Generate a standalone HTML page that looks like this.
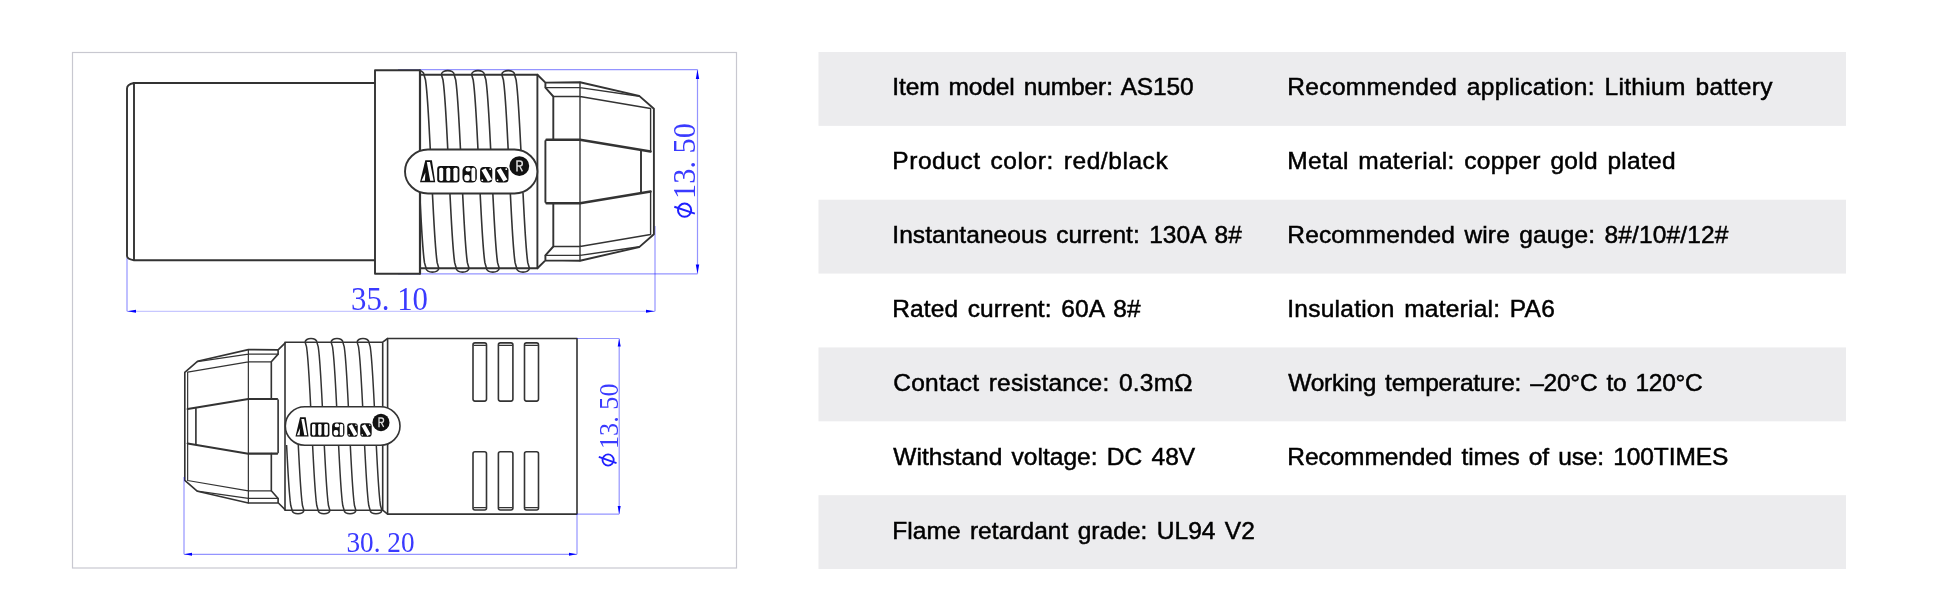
<!DOCTYPE html>
<html><head><meta charset="utf-8"><style>
html,body{margin:0;padding:0;background:#fff;width:1946px;height:612px;overflow:hidden}
svg{display:block;will-change:transform}
</style></head><body>
<svg width="1946" height="612" viewBox="0 0 1946 612">
<g><rect x="818.5" y="52.00" width="1027.5" height="73.86" fill="#ECECEE"/><rect x="818.5" y="199.72" width="1027.5" height="73.86" fill="#ECECEE"/><rect x="818.5" y="347.44" width="1027.5" height="73.86" fill="#ECECEE"/><rect x="818.5" y="495.16" width="1027.5" height="73.86" fill="#ECECEE"/></g>
<g font-family="Liberation Sans" font-size="24.5" word-spacing="2.5" fill="#000" stroke="#000" stroke-width="0.5">
<text x="892.3" y="94.95" textLength="301.39" lengthAdjust="spacing">Item model number: AS150</text>
<text x="892.3" y="168.90" textLength="275.38" lengthAdjust="spacing">Product color: red/black</text>
<text x="892.3" y="242.85" textLength="349.63" lengthAdjust="spacing">Instantaneous current: 130A 8#</text>
<text x="892.3" y="316.80" textLength="248.26" lengthAdjust="spacing">Rated current: 60A 8#</text>
<text x="893.3" y="390.75" textLength="299.31" lengthAdjust="spacing">Contact resistance: 0.3mΩ</text>
<text x="893.3" y="464.70" textLength="301.86" lengthAdjust="spacing">Withstand voltage: DC 48V</text>
<text x="892.3" y="538.65" textLength="362.57" lengthAdjust="spacing">Flame retardant grade: UL94 V2</text>
<text x="1287.3" y="94.95" textLength="485.09" lengthAdjust="spacing">Recommended application: Lithium battery</text>
<text x="1287.3" y="168.90" textLength="388.28" lengthAdjust="spacing">Metal material: copper gold plated</text>
<text x="1287.3" y="242.85" textLength="441.15" lengthAdjust="spacing">Recommended wire gauge: 8#/10#/12#</text>
<text x="1287.3" y="316.80" textLength="267.54" lengthAdjust="spacing">Insulation material: PA6</text>
<text x="1288.3" y="390.75" textLength="414.52" lengthAdjust="spacing">Working temperature: –20°C to 120°C</text>
<text x="1287.3" y="464.70" textLength="440.99" lengthAdjust="spacing">Recommended times of use: 100TIMES</text>
</g>
<rect x="72.5" y="52.5" width="664" height="515.5" fill="none" stroke="#C8C8D0" stroke-width="1.2"/>
<g stroke="#0000FF" stroke-opacity="0.42" stroke-width="1.2" fill="none">
<path d="M398 69.6 H697.5 M398 273.8 H697.5 M697.5 69.6 V273.8"/>
<path d="M127 258 V311.3 M655 226 V311.3"/><path d="M127 311.3 H655" stroke-opacity="0.22"/>
</g>
<g fill="#0000FF">
<path d="M697.5 69.8 L699.2 79 L695.8 79 Z"/><path d="M697.5 273.6 L699.2 264.4 L695.8 264.4 Z"/>
<path d="M127.2 311.3 L136 309.8 L136 312.8 Z"/><path d="M654.8 311.3 L646 309.8 L646 312.8 Z"/>
</g>
<g fill="none" stroke="#333" stroke-width="1.9" stroke-linejoin="round" stroke-linecap="round">
<path d="M134 83 H375 M134 260.3 H375 M134 83 V260.3 M133.8 83 C130 83.8 127 85 127 88.5 V256 C127 258 130 259.5 134 260.3"/>
</g>
<defs><clipPath id="cu"><rect x="420" y="60" width="117.4" height="220"/></clipPath><clipPath id="cl"><rect x="285" y="330" width="97.7" height="195"/></clipPath></defs>
<g fill="none" stroke="#333" stroke-width="1.6" stroke-linejoin="round" clip-path="url(#cu)">
<path d="M 417.60 150.00 L 417.33 144.62 L 417.05 139.24 L 416.77 133.86 L 416.49 128.49 L 416.19 123.11 L 415.88 117.73 L 415.56 112.35 L 415.22 106.97 L 414.85 101.59 L 414.45 96.21 L 414.01 90.84 L 413.49 85.46 L 412.83 80.08 L 411.25 74.70 C 410.95 69.20 424.25 69.20 423.95 74.70 L 425.53 80.08 L 426.19 85.46 L 426.71 90.84 L 427.15 96.21 L 427.55 101.59 L 427.92 106.97 L 428.26 112.35 L 428.58 117.73 L 428.89 123.11 L 429.19 128.49 L 429.47 133.86 L 429.75 139.24 L 430.03 144.62 L 430.30 150.00"/>
<path d="M 419.71 193.00 L 419.98 198.36 L 420.26 203.71 L 420.54 209.07 L 420.83 214.43 L 421.12 219.79 L 421.43 225.14 L 421.75 230.50 L 422.09 235.86 L 422.46 241.21 L 422.85 246.57 L 423.29 251.93 L 423.81 257.29 L 424.47 262.64 L 426.05 268.00 C 425.75 273.50 439.05 273.50 438.75 268.00 L 437.17 262.64 L 436.51 257.29 L 435.99 251.93 L 435.55 246.57 L 435.16 241.21 L 434.79 235.86 L 434.45 230.50 L 434.13 225.14 L 433.82 219.79 L 433.53 214.43 L 433.24 209.07 L 432.96 203.71 L 432.68 198.36 L 432.41 193.00"/>
<path d="M 447.80 150.00 L 447.53 144.62 L 447.25 139.24 L 446.97 133.86 L 446.69 128.49 L 446.39 123.11 L 446.08 117.73 L 445.76 112.35 L 445.42 106.97 L 445.05 101.59 L 444.65 96.21 L 444.21 90.84 L 443.69 85.46 L 443.03 80.08 L 441.45 74.70 C 441.15 69.20 454.45 69.20 454.15 74.70 L 455.73 80.08 L 456.39 85.46 L 456.91 90.84 L 457.35 96.21 L 457.75 101.59 L 458.12 106.97 L 458.46 112.35 L 458.78 117.73 L 459.09 123.11 L 459.39 128.49 L 459.67 133.86 L 459.95 139.24 L 460.23 144.62 L 460.50 150.00"/>
<path d="M 449.91 193.00 L 450.18 198.36 L 450.46 203.71 L 450.74 209.07 L 451.03 214.43 L 451.32 219.79 L 451.63 225.14 L 451.95 230.50 L 452.29 235.86 L 452.66 241.21 L 453.05 246.57 L 453.49 251.93 L 454.01 257.29 L 454.67 262.64 L 456.25 268.00 C 455.95 273.50 469.25 273.50 468.95 268.00 L 467.37 262.64 L 466.71 257.29 L 466.19 251.93 L 465.75 246.57 L 465.36 241.21 L 464.99 235.86 L 464.65 230.50 L 464.33 225.14 L 464.02 219.79 L 463.73 214.43 L 463.44 209.07 L 463.16 203.71 L 462.88 198.36 L 462.61 193.00"/>
<path d="M 478.00 150.00 L 477.73 144.62 L 477.45 139.24 L 477.17 133.86 L 476.89 128.49 L 476.59 123.11 L 476.28 117.73 L 475.96 112.35 L 475.62 106.97 L 475.25 101.59 L 474.85 96.21 L 474.41 90.84 L 473.89 85.46 L 473.23 80.08 L 471.65 74.70 C 471.35 69.20 484.65 69.20 484.35 74.70 L 485.93 80.08 L 486.59 85.46 L 487.11 90.84 L 487.55 96.21 L 487.95 101.59 L 488.32 106.97 L 488.66 112.35 L 488.98 117.73 L 489.29 123.11 L 489.59 128.49 L 489.87 133.86 L 490.15 139.24 L 490.43 144.62 L 490.70 150.00"/>
<path d="M 480.11 193.00 L 480.38 198.36 L 480.66 203.71 L 480.94 209.07 L 481.23 214.43 L 481.52 219.79 L 481.83 225.14 L 482.15 230.50 L 482.49 235.86 L 482.86 241.21 L 483.25 246.57 L 483.69 251.93 L 484.21 257.29 L 484.87 262.64 L 486.45 268.00 C 486.15 273.50 499.45 273.50 499.15 268.00 L 497.57 262.64 L 496.91 257.29 L 496.39 251.93 L 495.95 246.57 L 495.56 241.21 L 495.19 235.86 L 494.85 230.50 L 494.53 225.14 L 494.22 219.79 L 493.93 214.43 L 493.64 209.07 L 493.36 203.71 L 493.08 198.36 L 492.81 193.00"/>
<path d="M 508.20 150.00 L 507.93 144.62 L 507.65 139.24 L 507.37 133.86 L 507.09 128.49 L 506.79 123.11 L 506.48 117.73 L 506.16 112.35 L 505.82 106.97 L 505.45 101.59 L 505.05 96.21 L 504.61 90.84 L 504.09 85.46 L 503.43 80.08 L 501.85 74.70 C 501.55 69.20 514.85 69.20 514.55 74.70 L 516.13 80.08 L 516.79 85.46 L 517.31 90.84 L 517.75 96.21 L 518.15 101.59 L 518.52 106.97 L 518.86 112.35 L 519.18 117.73 L 519.49 123.11 L 519.79 128.49 L 520.07 133.86 L 520.35 139.24 L 520.63 144.62 L 520.90 150.00"/>
<path d="M 510.31 193.00 L 510.58 198.36 L 510.86 203.71 L 511.14 209.07 L 511.43 214.43 L 511.72 219.79 L 512.03 225.14 L 512.35 230.50 L 512.69 235.86 L 513.06 241.21 L 513.45 246.57 L 513.89 251.93 L 514.41 257.29 L 515.07 262.64 L 516.65 268.00 C 516.35 273.50 529.65 273.50 529.35 268.00 L 527.77 262.64 L 527.11 257.29 L 526.59 251.93 L 526.15 246.57 L 525.76 241.21 L 525.39 235.86 L 525.05 230.50 L 524.73 225.14 L 524.42 219.79 L 524.13 214.43 L 523.84 209.07 L 523.56 203.71 L 523.28 198.36 L 523.01 193.00"/>
</g>
<g fill="none" stroke="#333" stroke-width="1.9" stroke-linejoin="round" stroke-linecap="round">
<path d="M420 74.7 H537.4 V268.3 H420"/>
<rect x="375" y="70.2" width="45" height="203.5" fill="#fff"/>
<path d="M420 70.6 V273.4" stroke-width="2.2"/>
<g id="cone"><path d="M537.4 74.7 L545.4 82.6 V87.6 L553.3 96.5 V139.7 M545.4 82.6 L580 82.3 L639.2 95.9 L653.9 108.7 V234.3 L639.2 247.1 L580 260.7 L545.4 260.4 V255.4 L553.3 246.5 V203.3 M537.4 268.3 L545.4 260.4"/><path d="M545.4 87.6 H580 L639.2 96.2 M553.3 96.5 H580 L650.6 108.5 V151.5 M545.4 255.4 H580 L639.2 246.8 M553.3 246.5 H580 L650.6 234.5 V191.5 M580 82.3 V260.7" stroke-width="1.4"/><path d="M546.5 139.7 H580 L650.6 151.5 M546.5 203.3 H580 L650.6 191.5" stroke-width="2.4"/><path d="M545.4 141 V202 M641 151 V192"/></g>
<rect x="405" y="149.5" width="132.4" height="44" rx="23" ry="22" fill="#fff"/>
</g>
<g fill="#111"><path d="M420 182.2 L425.3 160.2 H431.9 L435.2 182.2 Z"/><rect x="437.2" y="166.1" width="22.2" height="16.4" rx="3"/><rect x="462.5" y="166.1" width="14.3" height="16.4" rx="4.5"/><rect x="480.1" y="167" width="12.2" height="15.5" rx="3.5"/><rect x="495.2" y="167" width="13.3" height="15.5" rx="3.5"/><circle cx="519.3" cy="166.1" r="9.9"/></g><g fill="#fff"><path d="M426.8 162 L430 162 L433.6 180.8 L430.2 180.8 Z"/><path d="M421.6 180.8 L424.9 180.8 L425.4 172.5 Z"/><rect x="439.2" y="167.7" width="4" height="13.2" rx="1.6"/><rect x="446.3" y="167.7" width="4" height="13.2" rx="1.6"/><rect x="453.4" y="167.7" width="4.2" height="13.2" rx="1.6"/><rect x="465.6" y="167.4" width="5" height="4.2" rx="1.8"/><rect x="464.3" y="174.8" width="5.4" height="6.2" rx="2.2"/><rect x="471.4" y="167.8" width="3.9" height="13.2" rx="1.6"/><path d="M481.5 170.2 L485.6 168.2 L492 179.4 L487.9 181.4 Z"/><path d="M496.7 170.2 L500.8 168.2 L507.4 179.4 L503.4 181.4 Z"/><circle cx="490.2" cy="169.2" r="0.9"/><circle cx="482.3" cy="180.2" r="0.9"/><circle cx="506.3" cy="169.2" r="0.9"/><circle cx="497.5" cy="180.2" r="0.9"/></g><path d="M517 171.5 V161 h2.8 a2.5 2.5 0 0 1 0 5 h-2.8 M519.6 166 l2.8 5.3" stroke="#fff" stroke-width="1.5" fill="none" stroke-opacity="0.85"/><g></g>
<text x="351" y="310" font-family="Liberation Serif" font-size="33.5" fill="#3a3aFF" textLength="77" lengthAdjust="spacingAndGlyphs">35. 10</text>
<text transform="translate(695 199) rotate(-90)" x="0" y="0" font-family="Liberation Serif" font-size="31.5" fill="#3a3aFF" textLength="76" lengthAdjust="spacingAndGlyphs">13. 50</text>
<g stroke="#2020FF" stroke-width="2" fill="none"><circle cx="684.6" cy="210.2" r="6.6"/><path d="M674.3 206.8 L694.9 213.6"/></g>
<g fill="none" stroke="#333" stroke-width="1.5" stroke-linejoin="round" clip-path="url(#cl)">
<path d="M 286.58 445.00 L 286.82 449.66 L 287.06 454.31 L 287.31 458.97 L 287.56 463.63 L 287.82 468.29 L 288.09 472.94 L 288.37 477.60 L 288.67 482.26 L 288.99 486.91 L 289.34 491.57 L 289.73 496.23 L 290.18 500.89 L 290.77 505.54 L 292.15 510.20 C 291.85 515.00 304.15 515.00 303.85 510.20 L 302.47 505.54 L 301.88 500.89 L 301.43 496.23 L 301.04 491.57 L 300.69 486.91 L 300.37 482.26 L 300.07 477.60 L 299.79 472.94 L 299.52 468.29 L 299.26 463.63 L 299.01 458.97 L 298.76 454.31 L 298.52 449.66 L 298.28 445.00"/>
<path d="M 310.72 407.50 L 310.48 402.84 L 310.24 398.17 L 310.00 393.51 L 309.74 388.84 L 309.48 384.18 L 309.21 379.51 L 308.93 374.85 L 308.63 370.19 L 308.31 365.52 L 307.96 360.86 L 307.57 356.19 L 307.12 351.53 L 306.54 346.86 L 305.15 342.20 C 304.85 337.40 317.15 337.40 316.85 342.20 L 318.24 346.86 L 318.82 351.53 L 319.27 356.19 L 319.66 360.86 L 320.01 365.52 L 320.33 370.19 L 320.63 374.85 L 320.91 379.51 L 321.18 384.18 L 321.44 388.84 L 321.70 393.51 L 321.94 398.17 L 322.18 402.84 L 322.42 407.50"/>
<path d="M 312.58 445.00 L 312.82 449.66 L 313.06 454.31 L 313.31 458.97 L 313.56 463.63 L 313.82 468.29 L 314.09 472.94 L 314.37 477.60 L 314.67 482.26 L 314.99 486.91 L 315.34 491.57 L 315.73 496.23 L 316.18 500.89 L 316.77 505.54 L 318.15 510.20 C 317.85 515.00 330.15 515.00 329.85 510.20 L 328.47 505.54 L 327.88 500.89 L 327.43 496.23 L 327.04 491.57 L 326.69 486.91 L 326.37 482.26 L 326.07 477.60 L 325.79 472.94 L 325.52 468.29 L 325.26 463.63 L 325.01 458.97 L 324.76 454.31 L 324.52 449.66 L 324.28 445.00"/>
<path d="M 336.72 407.50 L 336.48 402.84 L 336.24 398.17 L 336.00 393.51 L 335.74 388.84 L 335.48 384.18 L 335.21 379.51 L 334.93 374.85 L 334.63 370.19 L 334.31 365.52 L 333.96 360.86 L 333.57 356.19 L 333.12 351.53 L 332.54 346.86 L 331.15 342.20 C 330.85 337.40 343.15 337.40 342.85 342.20 L 344.24 346.86 L 344.82 351.53 L 345.27 356.19 L 345.66 360.86 L 346.01 365.52 L 346.33 370.19 L 346.63 374.85 L 346.91 379.51 L 347.18 384.18 L 347.44 388.84 L 347.70 393.51 L 347.94 398.17 L 348.18 402.84 L 348.42 407.50"/>
<path d="M 338.58 445.00 L 338.82 449.66 L 339.06 454.31 L 339.31 458.97 L 339.56 463.63 L 339.82 468.29 L 340.09 472.94 L 340.37 477.60 L 340.67 482.26 L 340.99 486.91 L 341.34 491.57 L 341.73 496.23 L 342.18 500.89 L 342.77 505.54 L 344.15 510.20 C 343.85 515.00 356.15 515.00 355.85 510.20 L 354.47 505.54 L 353.88 500.89 L 353.43 496.23 L 353.04 491.57 L 352.69 486.91 L 352.37 482.26 L 352.07 477.60 L 351.79 472.94 L 351.52 468.29 L 351.26 463.63 L 351.01 458.97 L 350.76 454.31 L 350.52 449.66 L 350.28 445.00"/>
<path d="M 362.72 407.50 L 362.48 402.84 L 362.24 398.17 L 362.00 393.51 L 361.74 388.84 L 361.48 384.18 L 361.21 379.51 L 360.93 374.85 L 360.63 370.19 L 360.31 365.52 L 359.96 360.86 L 359.57 356.19 L 359.12 351.53 L 358.54 346.86 L 357.15 342.20 C 356.85 337.40 369.15 337.40 368.85 342.20 L 370.24 346.86 L 370.82 351.53 L 371.27 356.19 L 371.66 360.86 L 372.01 365.52 L 372.33 370.19 L 372.63 374.85 L 372.91 379.51 L 373.18 384.18 L 373.44 388.84 L 373.70 393.51 L 373.94 398.17 L 374.18 402.84 L 374.42 407.50"/>
<path d="M 364.58 445.00 L 364.82 449.66 L 365.06 454.31 L 365.31 458.97 L 365.56 463.63 L 365.82 468.29 L 366.09 472.94 L 366.37 477.60 L 366.67 482.26 L 366.99 486.91 L 367.34 491.57 L 367.73 496.23 L 368.18 500.89 L 368.77 505.54 L 370.15 510.20 C 369.85 515.00 382.15 515.00 381.85 510.20 L 380.47 505.54 L 379.88 500.89 L 379.43 496.23 L 379.04 491.57 L 378.69 486.91 L 378.37 482.26 L 378.07 477.60 L 377.79 472.94 L 377.52 468.29 L 377.26 463.63 L 377.01 458.97 L 376.76 454.31 L 376.52 449.66 L 376.28 445.00"/>
</g>
<g fill="none" stroke="#333" stroke-width="1.6" stroke-linejoin="round" stroke-linecap="round">
<path d="M285 342.2 H382.7 L387.6 338.5 M285 510.2 H382.7 L387.6 514.1 M285 342.2 V510.2 M382.7 342.2 V510.2"/>
<rect x="387.6" y="338.5" width="189.4" height="175.6" fill="#fff"/>
<rect x="473" y="342.9" width="13.5" height="58.2" rx="2"/>
<rect x="473" y="451.7" width="13.5" height="58.3" rx="2"/>
<path d="M474 345.3 H485.5 M474 507.6 H485.5" stroke-width="1.2"/>
<rect x="498.4" y="342.9" width="14.5" height="58.2" rx="2"/>
<rect x="498.4" y="451.7" width="14.5" height="58.3" rx="2"/>
<path d="M499.4 345.3 H511.9 M499.4 507.6 H511.9" stroke-width="1.2"/>
<rect x="524.5" y="342.9" width="14.0" height="58.2" rx="2"/>
<rect x="524.5" y="451.7" width="14.0" height="58.3" rx="2"/>
<path d="M525.5 345.3 H537.5 M525.5 507.6 H537.5" stroke-width="1.2"/>
</g>
<g transform="matrix(-0.86 0 0 0.86 747.16 278.81)" fill="none" stroke="#333" stroke-width="1.9" stroke-linejoin="round" stroke-linecap="round"><g ><path d="M537.4 74.7 L545.4 82.6 V87.6 L553.3 96.5 V139.7 M545.4 82.6 L580 82.3 L639.2 95.9 L653.9 108.7 V234.3 L639.2 247.1 L580 260.7 L545.4 260.4 V255.4 L553.3 246.5 V203.3 M537.4 268.3 L545.4 260.4"/><path d="M545.4 87.6 H580 L639.2 96.2 M553.3 96.5 H580 L650.6 108.5 V151.5 M545.4 255.4 H580 L639.2 246.8 M553.3 246.5 H580 L650.6 234.5 V191.5 M580 82.3 V260.7" stroke-width="1.4"/><path d="M546.5 139.7 H580 L650.6 151.5 M546.5 203.3 H580 L650.6 191.5" stroke-width="2.4"/><path d="M545.4 141 V202 M641 151 V192"/></g><path d="M650.6 151.5 V191.5" stroke-width="1.4"/></g>
<rect x="285.3" y="406.8" width="114.7" height="38.4" rx="19.5" ry="19.2" fill="#fff" stroke="#333" stroke-width="1.6"/>
<g transform="matrix(0.861 0 0 0.877 -66.134 276.811)"><g fill="#111"><path d="M420 182.2 L425.3 160.2 H431.9 L435.2 182.2 Z"/><rect x="437.2" y="166.1" width="22.2" height="16.4" rx="3"/><rect x="462.5" y="166.1" width="14.3" height="16.4" rx="4.5"/><rect x="480.1" y="167" width="12.2" height="15.5" rx="3.5"/><rect x="495.2" y="167" width="13.3" height="15.5" rx="3.5"/><circle cx="519.3" cy="166.1" r="9.9"/></g><g fill="#fff"><path d="M426.8 162 L430 162 L433.6 180.8 L430.2 180.8 Z"/><path d="M421.6 180.8 L424.9 180.8 L425.4 172.5 Z"/><rect x="439.2" y="167.7" width="4" height="13.2" rx="1.6"/><rect x="446.3" y="167.7" width="4" height="13.2" rx="1.6"/><rect x="453.4" y="167.7" width="4.2" height="13.2" rx="1.6"/><rect x="465.6" y="167.4" width="5" height="4.2" rx="1.8"/><rect x="464.3" y="174.8" width="5.4" height="6.2" rx="2.2"/><rect x="471.4" y="167.8" width="3.9" height="13.2" rx="1.6"/><path d="M481.5 170.2 L485.6 168.2 L492 179.4 L487.9 181.4 Z"/><path d="M496.7 170.2 L500.8 168.2 L507.4 179.4 L503.4 181.4 Z"/><circle cx="490.2" cy="169.2" r="0.9"/><circle cx="482.3" cy="180.2" r="0.9"/><circle cx="506.3" cy="169.2" r="0.9"/><circle cx="497.5" cy="180.2" r="0.9"/></g><path d="M517 171.5 V161 h2.8 a2.5 2.5 0 0 1 0 5 h-2.8 M519.6 166 l2.8 5.3" stroke="#fff" stroke-width="1.5" fill="none" stroke-opacity="0.85"/><g></g></g>
<g stroke="#0000FF" stroke-opacity="0.42" stroke-width="1.2" fill="none">
<path d="M577 338.5 H619.2 M577 514.1 H619.2 M619.2 338.5 V514.1 M184 477 V554.3 M577 514.1 V554.3 M184 554.3 H577"/>
</g>
<g fill="#0000FF">
<path d="M619.2 338.7 L620.7 346.5 L617.7 346.5 Z"/><path d="M619.2 513.9 L620.7 506.1 L617.7 506.1 Z"/>
<path d="M184.2 554.3 L192 552.8 L192 555.8 Z"/><path d="M576.8 554.3 L569 552.8 L569 555.8 Z"/>
</g>
<text x="346.5" y="552.3" font-family="Liberation Serif" font-size="28.8" fill="#3a3aFF" textLength="68" lengthAdjust="spacingAndGlyphs">30. 20</text>
<text transform="translate(617.5 449) rotate(-90)" x="0" y="0" font-family="Liberation Serif" font-size="27" fill="#3a3aFF" textLength="65.5" lengthAdjust="spacingAndGlyphs">13. 50</text>
<g stroke="#2020FF" stroke-width="1.8" fill="none"><circle cx="608.1" cy="460" r="5.6"/><path d="M598.8 456.8 L616.5 463.1"/></g>
</svg>
</body></html>
